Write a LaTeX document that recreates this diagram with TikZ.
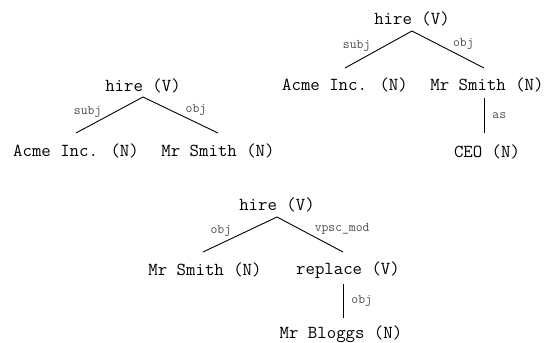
\documentclass[tikz,border=0pt]{standalone}
\begin{document}
\begin{tikzpicture}[x=1pt,y=-1pt,
  tok/.style={font=\ttfamily\fontsize{18.3}{21}\selectfont, inner sep=0pt},
  lbl/.style={font=\ttfamily\fontsize{13.3}{15}\selectfont, text=black!70, inner sep=1pt},
  vlbl/.style={lbl, anchor=west, inner xsep=8pt},
  dep/.style={line width=0.9pt}]
\useasboundingbox (0,0) rectangle (547,343);

% first tree
\node[tok] (h1) at (143,86) {hire (V)};
\node[tok] (a1) at (76,151) {Acme Inc. (N)};
\node[tok] (s1) at (218,151) {Mr Smith (N)};
\draw[dep] ([yshift=-11pt]h1.center) -- node[lbl, pos=.6, anchor=south east] {subj} ([yshift=18pt]a1.center);
\draw[dep] ([yshift=-11pt]h1.center) -- node[lbl, pos=.55, anchor=south west] {obj} ([yshift=18pt]s1.center);

% second tree
\node[tok] (h2) at (412,19) {hire (V)};
\node[tok] (a2) at (345,85) {Acme Inc. (N)};
\node[tok] (s2) at (487,85) {Mr Smith (N)};
\node[tok] (c2) at (487,152) {CEO (N)};
\draw[dep] ([yshift=-12pt]h2.center) -- node[lbl, pos=.6, anchor=south east] {subj} ([yshift=17pt]a2.center);
\draw[dep] ([yshift=-12pt]h2.center) -- node[lbl, pos=.55, anchor=south west] {obj} ([xshift=-3pt,yshift=17pt]s2.center);
\draw[dep] ([xshift=-3pt,yshift=-13pt]s2.center) -- node[vlbl] {as} ([xshift=-3pt,yshift=19pt]c2.center);

% third tree
\node[tok] (h3) at (277,205) {hire (V)};
\node[tok] (m3) at (205,270) {Mr Smith (N)};
\node[tok] (r3) at (348,270) {replace (V)};
\node[tok] (b3) at (341,334) {Mr Bloggs (N)};
\draw[dep] ([yshift=-12pt]h3.center) -- node[lbl, pos=.6, anchor=south east] {obj} ([xshift=-2pt,yshift=18pt]m3.center);
\draw[dep] ([yshift=-12pt]h3.center) -- node[lbl, pos=.55, anchor=south west] {vpsc\_mod} ([xshift=-5pt,yshift=18pt]r3.center);
\draw[dep] ([xshift=-5pt,yshift=-14pt]r3.center) -- node[vlbl] {obj} ([xshift=2pt,yshift=16pt]b3.center);
\end{tikzpicture}
\end{document}
